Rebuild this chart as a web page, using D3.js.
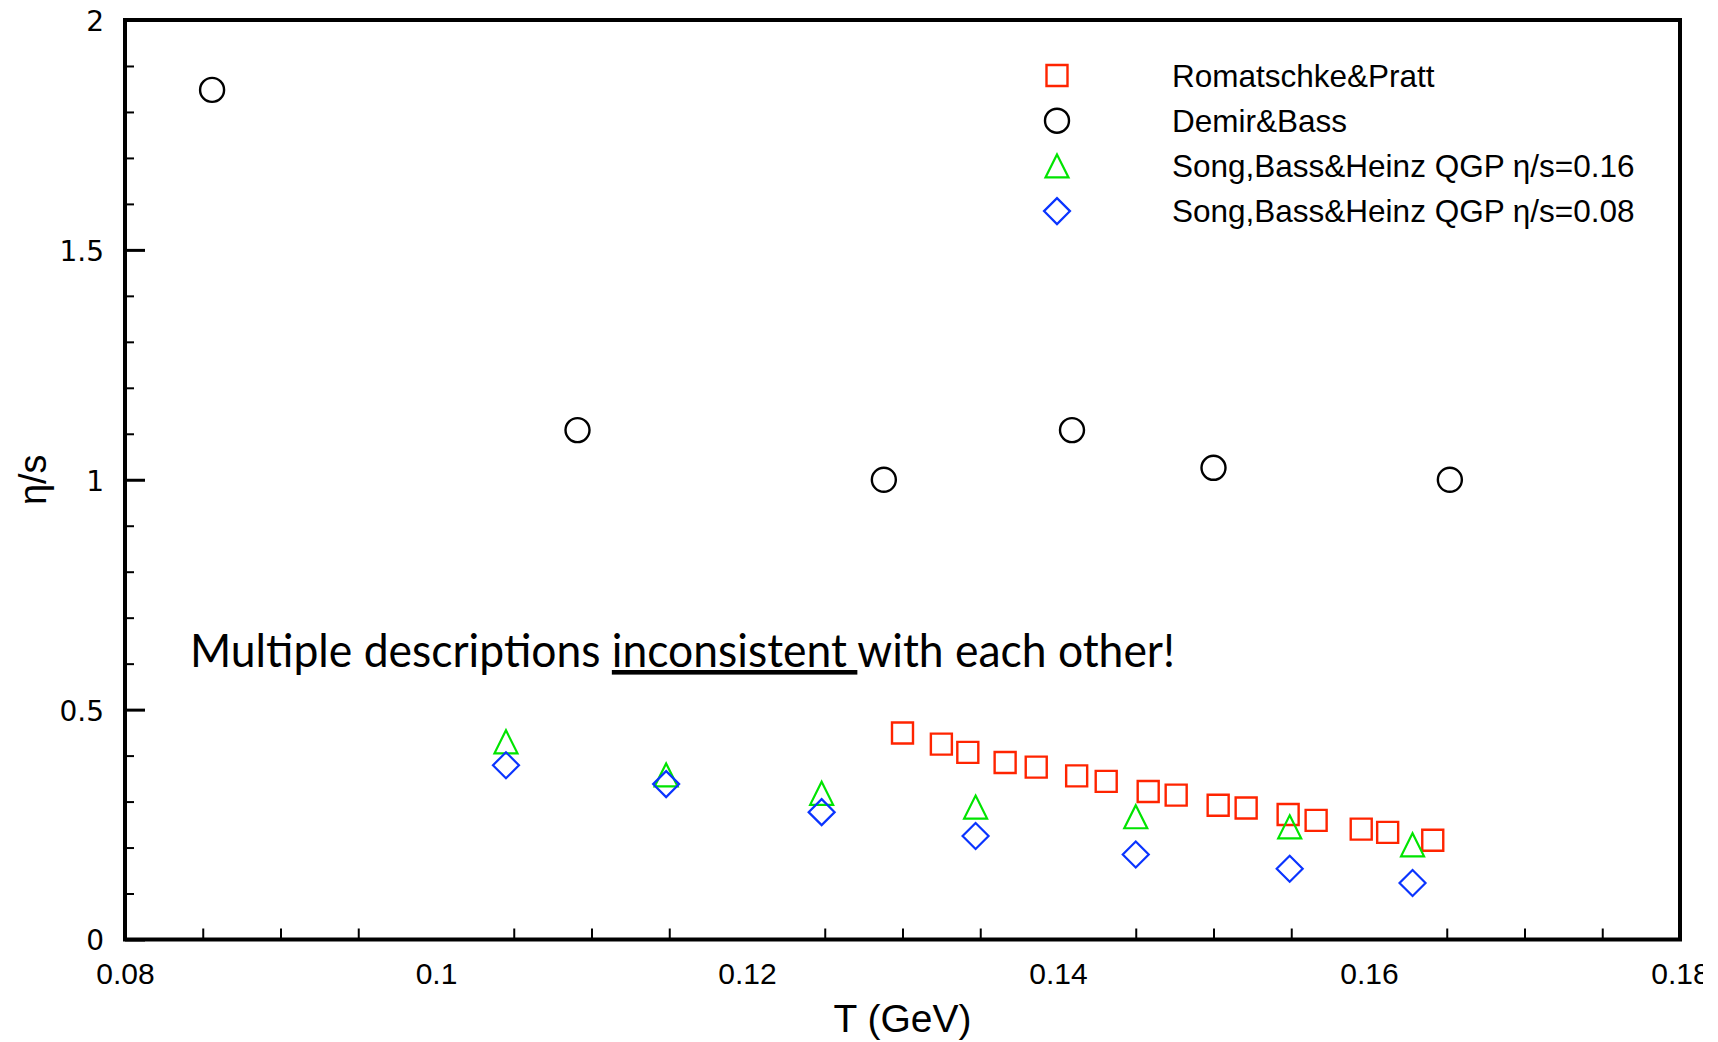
<!DOCTYPE html>
<html>
<head>
<meta charset="utf-8">
<script src="https://cdn.jsdelivr.net/npm/d3@7"></script>
<style>
  body { margin: 0; background: #fff; overflow: hidden; }
  svg { display: block; }
</style>
</head>
<body>
<svg id="chart" width="1718" height="1042"></svg>
<script>
// data
const romT   = [0.1300, 0.1325, 0.1342, 0.1366, 0.1386, 0.1412, 0.1431, 0.1458, 0.1476, 0.1503, 0.1521, 0.1548, 0.1566, 0.1595, 0.1612, 0.1641];
const romEta = [0.449, 0.425, 0.407, 0.385, 0.375, 0.356, 0.344, 0.322, 0.314, 0.292, 0.286, 0.272, 0.259, 0.240, 0.233, 0.216];

const demT   = [0.0856, 0.1091, 0.1288, 0.1409, 0.1500, 0.1652];
const demEta = [1.848, 1.108, 1.000, 1.108, 1.026, 1.000];

const sbhT     = [0.1045, 0.1148, 0.1248, 0.1347, 0.1450, 0.1549, 0.1628];
const sbhEta16 = [0.430, 0.358, 0.318, 0.288, 0.267, 0.245, 0.206];
const sbhEta08 = [0.379, 0.338, 0.277, 0.225, 0.185, 0.154, 0.123];

const legendLabels = ["Romatschke&Pratt", "Demir&Bass", "Song,Bass&Heinz QGP η/s=0.16", "Song,Bass&Heinz QGP η/s=0.08"];
const xMajor = [0.08, 0.1, 0.12, 0.14, 0.16, 0.18];
const yMajor = [0, 0.5, 1, 1.5, 2];

const svg = d3.select("#chart");

// plot frame
const padL = 125, padR = 1680, padT = 20, padB = 939.5;

const x = d3.scaleLinear().domain([0.08, 0.18]).range([padL, padR]);
const y = d3.scaleLinear().domain([0, 2]).range([padB, padT]);

// original picture is cropped just right of the last tick label
svg.append("clipPath").attr("id", "crop")
  .append("rect").attr("x", 0).attr("y", 0).attr("width", 1703).attr("height", 1042);

// minor ticks (every 0.005 on x, 0.1 on y)
const xMinor = d3.range(0, 21).map(i => +(0.08 + i * 0.005).toFixed(3)).filter(v => !xMajor.includes(v));
const yMinor = d3.range(0, 21).map(i => +(i * 0.1).toFixed(1)).filter(v => !yMajor.includes(v));

// x axis
const xAxis = svg.append("g").attr("transform", `translate(0,${padB})`).attr("clip-path", "url(#crop)");
xAxis.call(d3.axisBottom(x).tickValues(xMajor).tickSizeInner(-22).tickSizeOuter(0).tickFormat(d3.format("")));
xAxis.select(".domain").remove();
xAxis.selectAll(".tick line").attr("stroke", "#000").attr("stroke-width", 3);
xAxis.selectAll(".tick text")
  .attr("y", 44).attr("dy", 0)
  .attr("font-family", "'Liberation Sans', Arial, sans-serif")
  .attr("font-size", 30).attr("fill", "#000");

const xAxisMinor = svg.append("g").attr("transform", `translate(0,${padB})`);
xAxisMinor.call(d3.axisBottom(x).tickValues(xMinor).tickSizeInner(-11).tickSizeOuter(0).tickFormat(""));
xAxisMinor.select(".domain").remove();
xAxisMinor.selectAll(".tick line").attr("stroke", "#000").attr("stroke-width", 2);

// y axis
const yAxis = svg.append("g").attr("transform", `translate(${padL},0)`);
yAxis.call(d3.axisLeft(y).tickValues(yMajor).tickSizeInner(-20).tickSizeOuter(0).tickFormat(d3.format("")));
yAxis.select(".domain").remove();
yAxis.selectAll(".tick line").attr("stroke", "#000").attr("stroke-width", 3);
yAxis.selectAll(".tick text")
  .attr("x", -21).attr("dy", "0.37em")
  .attr("font-family", "'DejaVu Sans', sans-serif")
  .attr("font-size", 28).attr("fill", "#000");

const yAxisMinor = svg.append("g").attr("transform", `translate(${padL},0)`);
yAxisMinor.call(d3.axisLeft(y).tickValues(yMinor).tickSizeInner(-9).tickSizeOuter(0).tickFormat(""));
yAxisMinor.select(".domain").remove();
yAxisMinor.selectAll(".tick line").attr("stroke", "#000").attr("stroke-width", 2);

// frame
svg.append("rect")
  .attr("x", padL).attr("y", padT)
  .attr("width", padR - padL).attr("height", padB - padT)
  .attr("fill", "none").attr("stroke", "#000").attr("stroke-width", 4);

// axis titles
svg.append("text")
  .attr("x", (padL + padR) / 2).attr("y", 1032)
  .attr("text-anchor", "middle")
  .attr("font-family", "'Liberation Sans', Arial, sans-serif")
  .attr("font-size", 39).text("T (GeV)");

svg.append("text")
  .attr("transform", `translate(46,${(padT + padB) / 2}) rotate(-90)`)
  .attr("text-anchor", "middle")
  .attr("font-family", "'Liberation Sans', Arial, sans-serif")
  .attr("font-size", 38).text("η/s");

// marker shapes, centred on their bounding box
const shapes = {
  square:   s => `M${-s/2},${-s/2}h${s}v${s}h${-s}Z`,
  circle:   s => `M${s/2},0A${s/2},${s/2},0,1,1,${-s/2},0A${s/2},${s/2},0,1,1,${s/2},0Z`,
  triangle: s => `M0,${-s/2}L${s/2},${s/2}L${-s/2},${s/2}Z`,
  diamond:  s => `M0,${-s/2}L${s/2},0L0,${s/2}L${-s/2},0Z`
};

const series = [
  { name: legendLabels[0], xs: romT, ys: romEta,   shape: "square",   size: 21, color: "#ff2400", sw: 2.4 },
  { name: legendLabels[1], xs: demT, ys: demEta,   shape: "circle",   size: 24, color: "#000000", sw: 2.4 },
  { name: legendLabels[2], xs: sbhT, ys: sbhEta16, shape: "triangle", size: 23, color: "#00e400", sw: 2.2 },
  { name: legendLabels[3], xs: sbhT, ys: sbhEta08, shape: "diamond",  size: 26, color: "#0a34ff", sw: 2.2 }
];

// draw points
series.forEach(s => {
  svg.append("g").selectAll("path")
    .data(s.xs.map((t, i) => ({ t: t, v: s.ys[i] })))
    .enter()
    .append("path")
    .attr("d", shapes[s.shape](s.size))
    .attr("transform", d => `translate(${x(d.t)},${y(d.v)})`)
    .attr("fill", "none")
    .attr("stroke", s.color)
    .attr("stroke-width", s.sw);
});

// legend
const legend = svg.append("g");
series.forEach((s, i) => {
  const ly = 75.5 + i * 45.2;
  legend.append("path")
    .attr("d", shapes[s.shape](s.size))
    .attr("transform", `translate(1057,${ly})`)
    .attr("fill", "none").attr("stroke", s.color).attr("stroke-width", s.sw);
  legend.append("text")
    .attr("x", 1172).attr("y", ly + 11)
    .attr("font-family", "'Liberation Sans', Arial, sans-serif")
    .attr("font-size", 31.5).text(s.name);
});

// annotation
const note = svg.append("text")
  .attr("x", 190).attr("y", 667)
  .attr("font-family", "Lato, 'Open Sans', sans-serif")
  .attr("font-size", 46)
  .attr("textLength", 985).attr("lengthAdjust", "spacingAndGlyphs");
note.append("tspan").text("Multiple descriptions ");
note.append("tspan").style("text-decoration", "underline").text("inconsistent ");
note.append("tspan").text("with each other!");
</script>
</body>
</html>
